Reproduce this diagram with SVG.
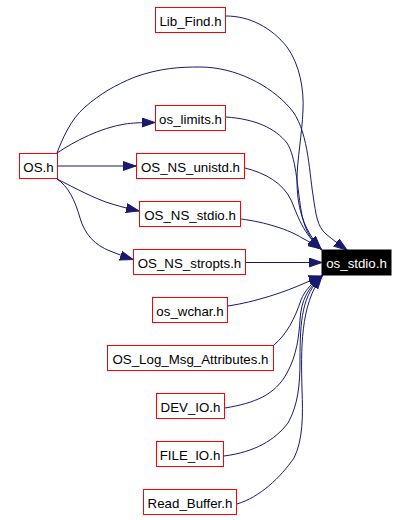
<svg xmlns="http://www.w3.org/2000/svg" width="408" height="520" viewBox="0 0 408 520">
<style>
.n rect{fill:#ffffff;stroke:#ff0000;stroke-width:1}
.n text{font-family:"Liberation Sans",Arial,sans-serif;font-size:13.3px;fill:#000000;text-anchor:middle}
#n_os_stdio rect{fill:#000000;stroke:#000000}
#n_os_stdio text{fill:#ffffff}
.e path{fill:none;stroke:#191970;stroke-width:1;marker-end:url(#ah)}
</style>
<defs>
<marker id="ah" markerUnits="userSpaceOnUse" markerWidth="14" markerHeight="10" refX="13" refY="5" orient="auto">
<path d="M0,0.5 L13,5 L0,9.5 z" fill="#191970" stroke="#191970" stroke-width="1"/>
</marker>
</defs>
<rect width="408" height="520" fill="#ffffff"/>
<g id="edges" class="e">
<path d="M57,153 C75,141 100,128 125,124 C132,123 140,122.5 155,122.5"/>
<path d="M57,166 L136,166"/>
<path d="M57,179 C75,188 95,199 112,204 C122,207 130,209 139,211"/>
<path d="M57,179 C68,186 75,200 80,218 C85,235 95,245 110,251 C118,254 125,257 133,259.5"/>
<path d="M57,153 C62,140 70,120 85,107 C100,94 115,85 135,77 C160,68 180,67 200,67 C235,67 270,85 290,108 C308,128 309,170 313,195 C316,215 317,226 326,234 C333,240 340,245 347,250"/>
<path d="M226,16 C250,16 272,28 287,47 C300,65 304,90 303,110 C302,135 297,160 297,180 C297,205 302,228 321,249"/>
<path d="M226,117 C255,119 275,128 287,143 C296,157 297,185 301,210 C304,228 310,240 321,249"/>
<path d="M245,168 C265,173 283,183 291,200 C298,216 302,232 321,249"/>
<path d="M241,219 C265,222 290,230 302,238 C310,242 315,245 321,249"/>
<path d="M246,262.5 L322,262.5"/>
<path d="M228,306 C255,302 285,292 305,283 C312,280 316,278 322,276"/>
<path d="M274,345 C287,334 295,318 301,300 C305,290 312,283 322,276"/>
<path d="M225,408 C255,403 275,395 287,373 C297,355 299,335 300,320 C301,300 308,288 322,276"/>
<path d="M224,456 C255,452 275,440 288,423 C298,405 300,385 300,360 C300,320 302,295 322,276"/>
<path d="M237,504 C260,497 280,478 294,458 C303,440 303,415 302,390 C301,350 300,305 322,276"/>
</g>
<g id="n_Lib_Find" class="n"><rect x="155.5" y="7.5" width="70" height="25"/><text x="190.5" y="25.5">Lib_Find.h</text></g>
<g id="n_os_limits" class="n"><rect x="155.5" y="105.5" width="70" height="25"/><text x="190.5" y="123.5">os_limits.h</text></g>
<g id="n_OS" class="n"><rect x="19.5" y="153.5" width="38" height="25"/><text x="38.5" y="171.5">OS.h</text></g>
<g id="n_OS_NS_unistd" class="n"><rect x="136.5" y="153.5" width="108" height="25"/><text x="190.5" y="171.5">OS_NS_unistd.h</text></g>
<g id="n_OS_NS_stdio" class="n"><rect x="139.5" y="201.5" width="101" height="25"/><text x="190" y="219.5">OS_NS_stdio.h</text></g>
<g id="n_OS_NS_stropts" class="n"><rect x="133.5" y="249.5" width="112" height="25"/><text x="189.5" y="267.5">OS_NS_stropts.h</text></g>
<g id="n_os_stdio" class="n"><rect x="322" y="250" width="69" height="25"/><text x="356.5" y="267.5">os_stdio.h</text></g>
<g id="n_os_wchar" class="n"><rect x="152.5" y="297.5" width="75" height="25"/><text x="190" y="315.5">os_wchar.h</text></g>
<g id="n_OS_Log_Msg_Attributes" class="n"><rect x="107.5" y="345.5" width="166" height="25"/><text x="190.5" y="363.5">OS_Log_Msg_Attributes.h</text></g>
<g id="n_DEV_IO" class="n"><rect x="156.5" y="393.5" width="68" height="25"/><text x="190.5" y="411.5">DEV_IO.h</text></g>
<g id="n_FILE_IO" class="n"><rect x="156.5" y="441.5" width="67" height="25"/><text x="190" y="459.5">FILE_IO.h</text></g>
<g id="n_Read_Buffer" class="n"><rect x="143.5" y="489.5" width="93" height="25"/><text x="190" y="507.5">Read_Buffer.h</text></g>
</svg>
